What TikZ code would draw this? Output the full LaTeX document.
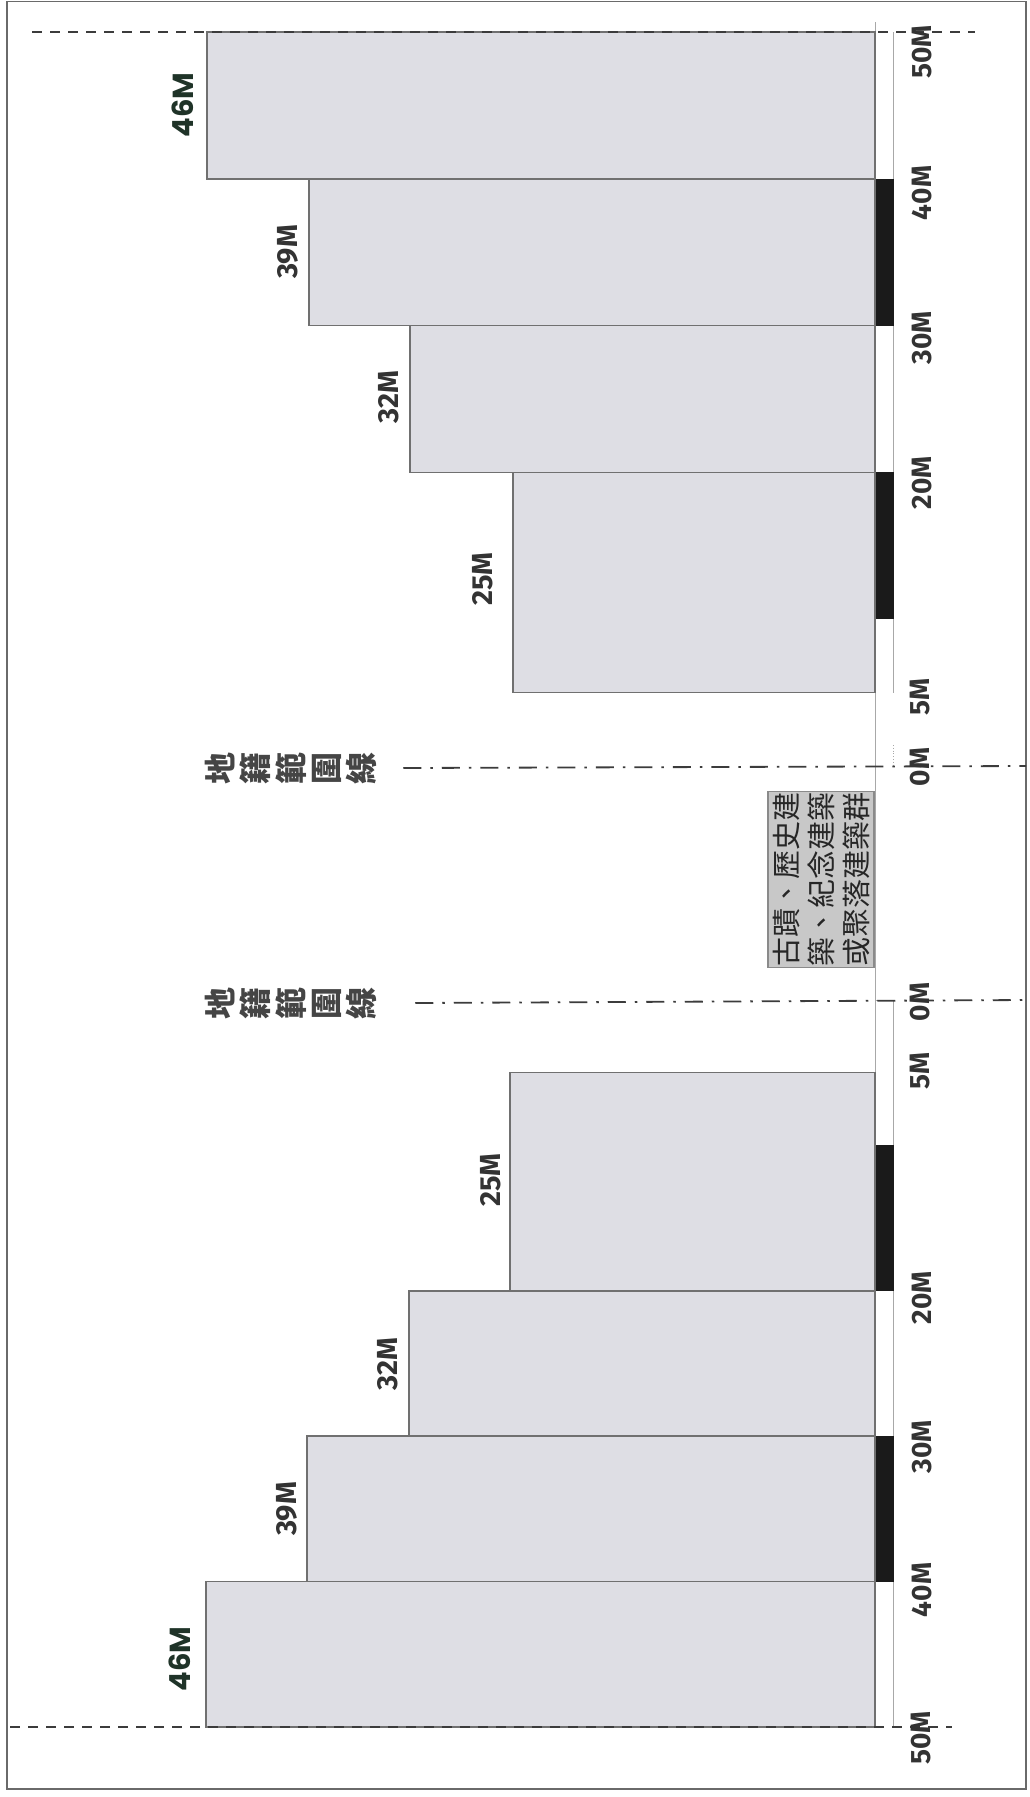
\documentclass[tikz,border=0pt]{standalone}
\usepackage{fontspec}
\newfontfamily\cjk{Noto Sans CJK TC}
\newfontfamily\popp{Poppins}
\newfontfamily\pts{Fira Sans}
\definecolor{boxfill}{HTML}{DEDEE4}
\definecolor{boxedge}{HTML}{707070}
\definecolor{barblack}{HTML}{1A1A1A}
\definecolor{dashgray}{HTML}{3C3C3C}
\definecolor{labgray}{HTML}{333333}
\definecolor{labgreen}{HTML}{1F3328}
\definecolor{cadgray}{HTML}{454545}
\definecolor{herfill}{HTML}{C8C8C8}
\definecolor{heredge}{HTML}{8A8A8A}
\definecolor{framegray}{HTML}{6A6A6A}
\definecolor{thingray}{HTML}{A8A8A8}
\tikzset{
  bld/.style={fill=boxfill, draw=boxedge, line width=1.5pt},
  scalebar/.style={fill=barblack},
  dashline/.style={draw=dashgray, line width=1.8pt, dash pattern=on 10pt off 8pt},
  propline/.style={draw=dashgray, line width=1.8pt, dash pattern=on 18pt off 9pt on 2.5pt off 9pt},
  hlab/.style={rotate=90, font=\pts\bfseries\fontsize{29}{29}\selectfont, text=labgray, inner sep=0pt},
  toplab/.style={rotate=90, font=\popp\bfseries\fontsize{29}{29}\selectfont, text=labgreen, inner sep=0pt},
  axlab/.style={rotate=90, font=\pts\bfseries\fontsize{28}{28}\selectfont, text=labgray, inner sep=0pt},
  cadlab/.style={rotate=90, font=\cjk\bfseries\fontsize{32}{35.4}\selectfont, align=center, text=cadgray, inner sep=0pt},
  heritage/.style={rotate=90, font=\cjk\fontsize{29}{35}\selectfont, align=left, text=black!85,
    fill=herfill, draw=heredge, line width=1.2pt, inner sep=0pt, minimum width=176pt, minimum height=106pt},
  thin/.style={draw=thingray, line width=0.8pt}
}
\begin{document}
\begin{tikzpicture}[x=1pt,y=-1pt]
\useasboundingbox (0,0) rectangle (1029,1797);
\fill[white] (0,0) rectangle (1029,1797);
% frame
\draw[framegray, line width=1.5pt] (7,1.5) rectangle (1026,1789);
% thin axis lines
\draw[thin] (875,22) -- (875,1727);
\draw[thin] (893,32) -- (893,692.6);
\draw[thin, dotted] (893,745) -- (893,766);
\draw[thin] (876,1000) -- (893,1000) -- (893,1727);
% upper buildings
\path[bld] (207,32) rectangle (875,178.8);
\path[bld] (309,178.8) rectangle (875,325.6);
\path[bld] (410,325.6) rectangle (875,472.4);
\path[bld] (513,472.4) rectangle (875,692.6);
% lower buildings
\path[bld] (510,1072.7) rectangle (875,1290.8);
\path[bld] (409,1290.8) rectangle (875,1436.2);
\path[bld] (307,1436.2) rectangle (875,1581.6);
\path[bld] (206,1581.6) rectangle (875,1727);
% scale bars
\path[scalebar] (876,178.8) rectangle (894,325.6);
\path[scalebar] (876,472.4) rectangle (894,619.2);
\path[scalebar] (876,1145.4) rectangle (894,1290.8);
\path[scalebar] (876,1436.2) rectangle (894,1581.6);
% 50M dashed lines
\coordinate (du1) at (32,32);
\coordinate (du2) at (975,32);
\coordinate (dl1) at (10,1727);
\coordinate (dl2) at (952,1727);
\draw[dashline] (du1) -- (du2);
\draw[dashline] (dl1) -- (dl2);
% property lines with labels
\node[cadlab] (cadu) at (291,768) {地\\籍\\範\\圍\\線};
\node[cadlab] (cadl) at (291,1003) {地\\籍\\範\\圍\\線};
\coordinate (pu) at (1026,766);
\coordinate (pl) at (1026,1000);
\draw[propline] ([xshift=26pt]cadu.south) -- (pu);
\draw[propline] ([xshift=38pt]cadl.south) -- (pl);
% heritage box
\node[heritage] (her) at (821,879.5) {古蹟、歷史建\\築、紀念建築\\或聚落建築群};
% height labels
\node[toplab] (h46u) at (183,105) {46M};
\node[hlab] (h39u) at (288,252) {39M};
\node[hlab] (h32u) at (389,397) {32M};
\node[hlab] (h25u) at (483,579) {25M};
\node[hlab] (h25l) at (491,1180) {25M};
\node[hlab] (h32l) at (388,1364) {32M};
\node[hlab] (h39l) at (287,1509) {39M};
\node[toplab] (h46l) at (180,1659) {46M};
% axis labels
\node[axlab] (a50u) at (922,52) {50M};
\node[axlab] (a40u) at (922,193) {40M};
\node[axlab] (a30u) at (922,338) {30M};
\node[axlab] (a20u) at (922,483) {20M};
\node[axlab] (a5u) at (920,697) {5M};
\node[axlab] (a0u) at (920,767) {0M};
\node[axlab] (a0l) at (920,1002) {0M};
\node[axlab] (a5l) at (920,1071) {5M};
\node[axlab] (a20l) at (922,1298) {20M};
\node[axlab] (a30l) at (922,1447) {30M};
\node[axlab] (a40l) at (922,1590) {40M};
\node[axlab] (a50l) at (921,1738) {50M};
\end{tikzpicture}
\end{document}
